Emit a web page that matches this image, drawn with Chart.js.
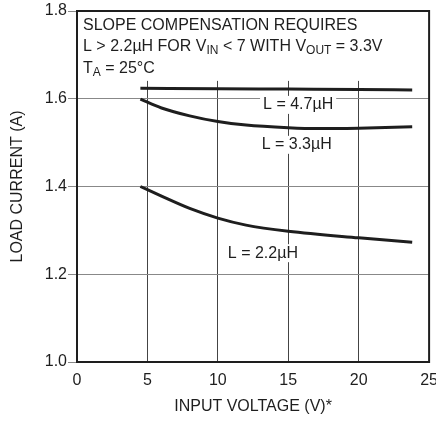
<!DOCTYPE html>
<html>
<head>
<meta charset="utf-8">
<script src="https://cdn.jsdelivr.net/npm/chart.js@4.4.0/dist/chart.umd.min.js"></script>
<style>
  html, body { margin: 0; padding: 0; background: #fff; overflow: hidden; }
</style>
</head>
<body>
<canvas id="chart" width="436" height="421"></canvas>
<script>
const FONT = "'Liberation Sans', Arial, sans-serif";
const INK = '#1e1e1e';

// input voltage (V) vs load current (A)
const vin47 = [4.5, 10, 15, 20, 23.8];
const load47 = [1.624, 1.623, 1.622, 1.621, 1.620];
const vin33 = [4.5, 6, 8, 10, 12, 15, 17, 20, 23.8];
const load33 = [1.599, 1.579, 1.561, 1.548, 1.540, 1.534, 1.532, 1.533, 1.536];
const vin22 = [4.5, 6, 8, 10, 12, 15, 20, 23.8];
const load22 = [1.400, 1.378, 1.350, 1.328, 1.312, 1.298, 1.283, 1.273];

const xTicks = [0, 5, 10, 15, 20, 25];
const yTicks = [1.0, 1.2, 1.4, 1.6, 1.8];
const curveNames = ['L = 4.7µH', 'L = 3.3µH', 'L = 2.2µH'];

function pts(xs, ys) {
    return xs.map((x, i) => ({ x: x, y: ys[i] }));
}

// draw a line of text with subscript pieces
function drawRuns(ctx, x, y, runs) {
    runs.forEach(r => {
        const sub = r[1];
        ctx.font = (sub ? '12px ' : '16px ') + FONT;
        ctx.fillText(r[0], x, sub ? y + 3 : y);
        x += ctx.measureText(r[0]).width;
    });
}

const notes = {
    id: 'notes',
    beforeDatasetsDraw(chart) {
        const ctx = chart.ctx;
        const area = chart.chartArea;
        const xs = chart.scales.x, ys = chart.scales.y;
        ctx.save();

        // white panel behind the conditions text
        ctx.fillStyle = '#fff';
        const boxBottom = ys.getPixelForValue(1.643);
        ctx.fillRect(area.left + 1, area.top + 1, area.right - area.left - 2, boxBottom - area.top);

        ctx.fillStyle = INK;
        ctx.textAlign = 'left';
        ctx.textBaseline = 'alphabetic';
        const tx = area.left + 6;
        drawRuns(ctx, tx, 30, [['SLOPE COMPENSATION REQUIRES']]);
        drawRuns(ctx, tx, 51, [['L > 2.2µH FOR V'], ['IN', true], [' < 7 WITH V'], ['OUT', true], [' = 3.3V']]);
        drawRuns(ctx, tx, 73, [['T'], ['A', true], [' = 25°C']]);

        // curve labels with white backing
        const spots = [[15.7, 1.586], [15.6, 1.495], [13.2, 1.248]];
        ctx.font = '16px ' + FONT;
        ctx.textAlign = 'center';
        ctx.textBaseline = 'middle';
        curveNames.forEach((name, i) => {
            const px = xs.getPixelForValue(spots[i][0]);
            const py = ys.getPixelForValue(spots[i][1]);
            const w = ctx.measureText(name).width + 6;
            ctx.fillStyle = '#fff';
            ctx.fillRect(px - w / 2, py - 9, w, 18);
            ctx.fillStyle = INK;
            ctx.fillText(name, px, py);
        });
        ctx.restore();
    },
    afterDatasetsDraw(chart) {
        const ctx = chart.ctx;
        const a = chart.chartArea;
        ctx.save();
        ctx.strokeStyle = INK;
        ctx.lineWidth = 2;
        ctx.strokeRect(a.left, a.top, a.right - a.left, a.bottom - a.top);
        ctx.restore();
    }
};

const curveStyle = {
    borderColor: INK,
    borderWidth: 3,
    pointRadius: 0,
    fill: false,
    cubicInterpolationMode: 'monotone'
};

new Chart(document.getElementById('chart').getContext('2d'), {
    type: 'line',
    data: {
        datasets: [
            Object.assign({ label: curveNames[0], data: pts(vin47, load47) }, curveStyle),
            Object.assign({ label: curveNames[1], data: pts(vin33, load33) }, curveStyle),
            Object.assign({ label: curveNames[2], data: pts(vin22, load22) }, curveStyle)
        ]
    },
    options: {
        responsive: false,
        animation: false,
        layout: { padding: { top: 11, left: 0, right: 0, bottom: 0 } },
        plugins: { legend: { display: false }, tooltip: { enabled: false } },
        scales: {
            x: {
                type: 'linear',
                min: 0,
                max: 25,
                afterBuildTicks: s => { s.ticks = xTicks.map(v => ({ value: v })); },
                afterFit: s => { s.height = 59; },
                grid: { color: '#444', lineWidth: 1, tickLength: 11, tickColor: 'rgba(0,0,0,0)' },
                border: { display: false },
                ticks: { color: INK, font: { family: FONT, size: 16 }, padding: -2 },
                title: {
                    display: true,
                    text: 'INPUT VOLTAGE (V)*',
                    color: INK,
                    font: { family: FONT, size: 16 },
                    padding: { top: 0, bottom: 5 }
                }
            },
            y: {
                min: 1.0,
                max: 1.8,
                afterBuildTicks: s => { s.ticks = yTicks.map(v => ({ value: v })); },
                afterFit: s => { s.width = 77; },
                grid: { color: '#888', lineWidth: 1, tickLength: 9 },
                border: { display: false },
                ticks: {
                    color: INK,
                    font: { family: FONT, size: 16 },
                    padding: 1,
                    callback: v => v.toFixed(1)
                },
                title: {
                    display: true,
                    text: 'LOAD CURRENT (A)',
                    color: INK,
                    font: { family: FONT, size: 16 },
                    padding: { top: 8, bottom: 0 }
                }
            }
        }
    },
    plugins: [notes]
});
</script>
</body>
</html>
